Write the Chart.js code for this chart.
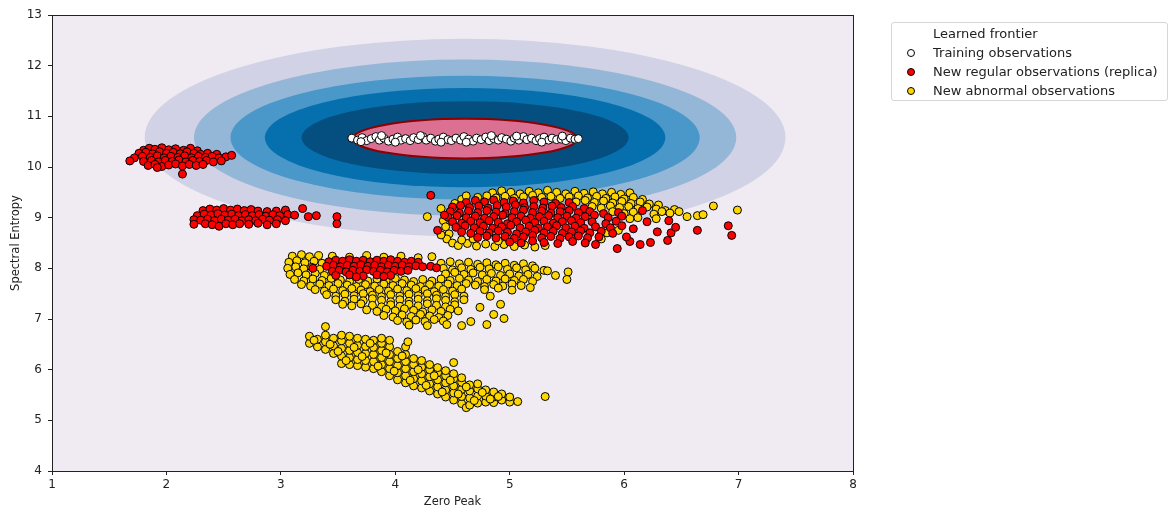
<!DOCTYPE html>
<html>
<head>
<meta charset="utf-8">
<script src="https://cdn.jsdelivr.net/npm/chart.js"></script>
<style>
  body { margin: 0; background: #fff; font-family: "DejaVu Sans", sans-serif; }
  #wrap { position: relative; width: 1174px; height: 512px; }
  #legend { position: absolute; left: 891px; top: 22px; width: 275px; height: 77px;
    border: 1px solid #d6d6d6; border-radius: 3px; background: #fff; font-size: 13px; color: #222; }
  .row { position: absolute; left: 0; height: 19px; line-height: 19px; white-space: nowrap; }
  .row span.dot { position: absolute; left: 15px; top: 6px; width: 6px; height: 6px; border: 1px solid #000; border-radius: 50%; }
  .row span.txt { position: absolute; left: 41px; }
</style>
</head>
<body>
<div id="wrap">
  <canvas id="chart" width="1174" height="512"></canvas>
  <div id="legend"></div>
</div>
<script>
// Axis ranges / ticks
const xRange = [1, 8];
const yRange = [4, 13];
const xTickStep = 1;
const yTickStep = 1;

// Learned decision function: filled bands, outermost first (center + half widths in data units)
const bandCenter = [4.61, 10.58];
const bandRadiusX = [2.80, 2.37, 2.05, 1.75, 1.43];
const bandRadiusY = [1.95, 1.54, 1.22, 0.98, 0.72];
const bandColors = ['#d1d2e6', '#94b7d8', '#4a97c9', '#0670ae', '#044f7f'];
const frontierCenter = [4.61, 10.56];
const frontierRadius = [0.98, 0.39];

const legendLabels = ['Learned frontier', 'Training observations', 'New regular observations (replica)', 'New abnormal observations'];

// Training observations
const trainingPoints = [
  [3.62,10.57],[3.67,10.53],[3.71,10.58],[3.75,10.52],[3.79,10.56],[3.83,10.60],[3.86,10.53],[3.90,10.57],
  [3.94,10.51],[3.98,10.55],[4.02,10.59],[4.05,10.53],[4.09,10.56],[4.13,10.52],[4.16,10.58],[4.20,10.54],
  [4.24,10.60],[4.27,10.53],[4.31,10.57],[4.35,10.51],[4.38,10.55],[4.42,10.59],[4.46,10.54],[4.49,10.52],
  [4.53,10.57],[4.57,10.53],[4.60,10.60],[4.64,10.55],[4.68,10.51],[4.71,10.57],[4.75,10.54],[4.79,10.59],
  [4.82,10.52],[4.86,10.56],[4.90,10.53],[4.93,10.58],[4.97,10.55],[5.01,10.51],[5.04,10.57],[5.08,10.53],
  [5.12,10.60],[5.15,10.54],[5.19,10.57],[5.23,10.52],[5.26,10.56],[5.30,10.59],[5.34,10.53],[5.37,10.57],
  [5.41,10.54],[5.45,10.55],[5.49,10.52],[5.53,10.57],[5.57,10.55],[5.60,10.56],
  [3.70,10.50],[3.88,10.62],[4.00,10.49],[4.22,10.62],[4.40,10.49],[4.62,10.49],[4.84,10.62],[5.06,10.61],
  [5.28,10.49],[5.46,10.61]
];

// New regular observations (replica)
const regularPoints = [
  // cluster near (2.1, 10.2)
  [1.80,10.33],[1.85,10.37],[1.90,10.35],[1.96,10.38],[2.02,10.34],[2.08,10.36],[2.15,10.33],[2.21,10.37],[2.27,10.32],
  [1.76,10.27],[1.82,10.29],[1.88,10.26],[1.94,10.30],[2.00,10.27],[2.06,10.29],[2.12,10.26],[2.18,10.30],[2.24,10.27],
  [2.30,10.25],[2.36,10.27],[2.44,10.25],
  [1.72,10.18],[1.79,10.21],[1.86,10.19],[1.92,10.22],[1.98,10.18],[2.04,10.21],[2.10,10.19],[2.16,10.22],[2.22,10.18],
  [2.28,10.21],[2.34,10.19],[2.40,10.21],[2.46,10.18],[2.52,10.20],[2.57,10.23],
  [1.68,10.12],[1.80,10.11],[1.87,10.13],[1.93,10.10],[1.99,10.13],[2.05,10.11],[2.11,10.14],[2.17,10.10],[2.23,10.13],
  [2.29,10.11],[2.35,10.13],[2.41,10.10],[2.48,10.12],
  [1.84,10.03],[1.90,10.05],[1.96,10.01],[2.02,10.04],[2.08,10.06],[2.14,10.02],[2.20,10.05],[2.26,10.03],[2.32,10.05],
  [2.14,9.86],[1.92,9.99],
  // cluster near (2.7, 9.0)
  [2.32,9.14],[2.38,9.17],[2.44,9.15],[2.50,9.18],[2.56,9.15],[2.62,9.17],[2.68,9.14],[2.74,9.16],[2.80,9.13],[2.88,9.12],
  [2.96,9.13],[3.04,9.15],
  [2.27,9.04],[2.33,9.07],[2.39,9.05],[2.45,9.08],[2.51,9.05],[2.57,9.07],[2.63,9.04],[2.69,9.06],[2.75,9.04],[2.81,9.06],
  [2.87,9.03],[2.93,9.06],[2.99,9.04],[3.06,9.06],[3.12,9.05],
  [2.24,8.96],[2.30,8.95],[2.36,8.97],[2.42,8.94],[2.48,8.97],[2.54,8.95],[2.60,8.97],[2.66,8.94],[2.72,8.96],[2.78,8.94],
  [2.84,8.97],[2.90,8.95],[2.97,8.96],[3.04,8.94],
  [2.24,8.87],[2.34,8.88],[2.40,8.86],[2.46,8.83],[2.52,8.88],[2.58,8.86],[2.64,8.88],[2.72,8.87],[2.80,8.89],[2.88,8.86],
  [2.96,8.88],
  [3.19,9.18],[3.24,9.02],[3.31,9.04],[3.49,9.02],[3.49,8.88],
  // cluster near (3.9, 8.0)
  [3.28,8.00],
  [3.42,8.13],[3.48,8.16],[3.54,8.14],[3.60,8.17],[3.66,8.14],[3.72,8.16],[3.78,8.13],[3.84,8.16],[3.90,8.14],[3.96,8.17],
  [4.02,8.14],[4.08,8.12],[4.14,8.14],[4.20,8.12],
  [3.40,8.04],[3.46,8.06],[3.52,8.03],[3.58,8.06],[3.64,8.04],[3.70,8.07],[3.76,8.04],[3.82,8.06],[3.88,8.03],[3.94,8.06],
  [4.00,8.04],[4.06,8.06],[4.12,8.03],[4.18,8.05],[4.24,8.03],[4.31,8.04],[4.36,8.01],
  [3.45,7.94],[3.51,7.96],[3.57,7.93],[3.63,7.96],[3.69,7.94],[3.75,7.97],[3.81,7.94],[3.87,7.96],[3.93,7.93],[3.99,7.96],
  [4.05,7.94],[4.11,7.96],
  [3.48,7.86],[3.60,7.87],[3.72,7.85],[3.84,7.87],[3.96,7.86],[3.66,7.83],[3.90,7.84],
  // large cluster near (5.2, 8.9)
  [4.62,9.30],[4.70,9.34],[4.78,9.31],[4.86,9.35],[4.95,9.30],[5.03,9.33],[5.12,9.29],[5.21,9.34],[5.30,9.31],[5.40,9.28],
  [5.52,9.30],
  [4.50,9.21],[4.57,9.24],[4.65,9.20],[4.73,9.23],[4.81,9.19],[4.89,9.24],[4.97,9.21],[5.05,9.25],[5.13,9.20],[5.21,9.22],
  [5.29,9.19],[5.37,9.23],[5.45,9.20],[5.55,9.22],[5.65,9.18],
  [4.48,9.12],[4.56,9.09],[4.64,9.13],[4.72,9.10],[4.80,9.14],[4.88,9.11],[4.96,9.08],[5.04,9.12],[5.12,9.15],[5.20,9.10],
  [5.28,9.13],[5.36,9.09],[5.44,9.12],[5.52,9.14],[5.60,9.10],[5.70,9.12],[5.82,9.08],[5.95,9.10],
  [4.46,9.01],[4.54,9.04],[4.62,9.00],[4.70,9.03],[4.78,8.99],[4.86,9.02],[4.94,9.05],[5.02,9.00],[5.10,9.03],[5.18,8.99],
  [5.26,9.02],[5.34,9.04],[5.42,9.00],[5.50,9.03],[5.58,8.99],[5.66,9.02],[5.74,9.05],[5.86,9.00],[5.98,9.03],
  [4.50,8.92],[4.58,8.89],[4.66,8.93],[4.74,8.90],[4.82,8.94],[4.90,8.91],[4.98,8.88],[5.06,8.92],[5.14,8.95],[5.22,8.90],
  [5.30,8.93],[5.38,8.89],[5.46,8.92],[5.54,8.94],[5.62,8.90],[5.72,8.92],[5.84,8.88],[5.93,8.93],
  [4.53,8.81],[4.61,8.84],[4.69,8.80],[4.77,8.83],[4.85,8.79],[4.93,8.82],[5.01,8.85],[5.09,8.80],[5.17,8.83],[5.25,8.79],
  [5.33,8.82],[5.41,8.84],[5.49,8.80],[5.57,8.83],[5.65,8.79],[5.75,8.82],[5.88,8.80],[5.98,8.84],
  [4.58,8.72],[4.66,8.69],[4.74,8.73],[4.82,8.70],[4.90,8.74],[4.98,8.71],[5.06,8.68],[5.14,8.72],[5.22,8.75],[5.30,8.70],
  [5.38,8.73],[5.46,8.69],[5.54,8.72],[5.62,8.74],[5.70,8.70],[5.80,8.73],[5.90,8.69],
  [4.72,8.61],[4.80,8.64],[4.88,8.60],[4.96,8.63],[5.04,8.59],[5.12,8.62],[5.20,8.65],[5.28,8.60],[5.36,8.63],[5.44,8.59],
  [5.52,8.62],[5.60,8.64],[5.68,8.60],[5.78,8.62],
  [5.00,8.52],[5.10,8.50],[5.20,8.54],[5.30,8.51],[5.42,8.49],[5.55,8.53],[5.66,8.50],[5.75,8.47],
  [4.31,9.44],[4.37,8.75],[4.43,9.05],[5.94,8.39],[6.05,8.53],[6.14,8.47],[6.23,8.51],[6.29,8.72],[6.38,8.55],[6.41,8.70],
  [6.45,8.81],[6.64,8.75],[6.91,8.84],[6.94,8.65],[6.20,8.92],[6.39,8.94],[6.16,9.14],[6.08,8.78],[6.02,8.62]
];

// New abnormal observations
const abnormalPoints = [
  // upper right cluster
  [4.85,9.49],[4.93,9.53],[5.01,9.50],[5.09,9.47],[5.17,9.52],[5.25,9.49],[5.33,9.54],[5.41,9.50],[5.49,9.47],[5.57,9.52],
  [5.65,9.48],[5.73,9.51],[5.81,9.47],[5.89,9.50],[5.97,9.46],[6.05,9.49],
  [4.72,9.40],[4.80,9.43],[4.88,9.39],[4.96,9.42],[5.04,9.38],[5.12,9.41],[5.20,9.44],[5.28,9.40],[5.36,9.42],[5.44,9.38],
  [5.52,9.41],[5.60,9.43],[5.68,9.39],[5.76,9.42],[5.84,9.38],[5.92,9.41],[6.00,9.37],[6.08,9.40],[6.16,9.36],
  [5.58,9.31],[5.66,9.34],[5.74,9.30],[5.82,9.33],[5.90,9.29],[5.98,9.32],[6.06,9.28],[6.14,9.31],[6.22,9.27],[6.30,9.25],
  [5.72,9.22],[5.80,9.19],[5.88,9.23],[5.96,9.20],[6.04,9.22],[6.12,9.18],[6.20,9.21],[6.28,9.17],[6.36,9.14],[6.44,9.16],
  [5.90,9.12],[6.00,9.08],[6.08,9.11],[6.26,9.07],[6.33,9.12],[6.40,9.09],[6.48,9.12],[6.55,9.02],[6.64,9.04],[6.69,9.06],
  [6.78,9.23],[6.99,9.15],[6.05,8.98],[6.12,9.00],[6.28,8.98],
  [4.28,9.02],[4.40,9.18],[4.42,8.94],[4.44,8.82],[4.47,8.68],[4.45,8.58],[4.52,9.28],[4.58,9.36],[4.50,8.50],[4.62,9.43],
  [4.40,8.66],
  [4.55,8.45],[4.63,8.49],[4.71,8.44],[4.79,8.48],[4.87,8.43],[4.95,8.47],[5.04,8.43],[5.13,8.46],[5.22,8.42],[5.31,8.45],
  [4.58,8.56],[4.68,8.58],[4.90,8.54],[5.85,8.70],[5.95,8.75],[5.80,8.58],
  // middle cluster
  [3.10,8.24],[3.18,8.27],[3.25,8.23],[3.33,8.25],
  [3.07,8.12],[3.14,8.15],[3.21,8.11],[3.29,8.14],[3.36,8.10],
  [3.06,8.00],[3.13,8.03],[3.20,7.99],[3.27,8.02],[3.34,7.98],
  [3.08,7.88],[3.15,7.91],[3.22,7.87],[3.30,7.90],[3.38,7.86],
  [3.45,8.24],[3.60,8.22],[3.75,8.25],[3.90,8.22],[4.05,8.24],[4.20,8.21],[4.32,8.23],
  [4.40,8.10],[4.48,8.13],[4.56,8.09],[4.64,8.12],[4.72,8.08],[4.80,8.11],[4.88,8.07],[4.96,8.10],[5.04,8.06],[5.12,8.09],
  [5.20,8.05],
  [4.42,8.00],[4.50,7.97],[4.58,8.01],[4.66,7.98],[4.74,8.02],[4.82,7.99],[4.90,8.03],[4.98,7.98],[5.06,8.01],[5.14,7.97],
  [5.22,8.00],[5.30,7.96],
  [4.44,7.89],[4.52,7.92],[4.60,7.88],[4.68,7.91],[4.76,7.87],[4.84,7.90],[4.92,7.86],[5.00,7.89],[5.08,7.85],[5.16,7.88],
  [5.24,7.84],[5.33,7.95],[5.40,7.86],[5.51,7.93],[5.50,7.78],
  [3.12,7.78],[3.20,7.75],[3.28,7.79],[3.36,7.76],[3.44,7.80],[3.52,7.77],[3.60,7.74],[3.68,7.78],[3.76,7.75],[3.84,7.79],
  [3.92,7.76],[4.00,7.80],[4.08,7.77],[4.16,7.74],[4.24,7.78],[4.32,7.75],[4.40,7.79],[4.48,7.76],[4.56,7.80],[4.64,7.77],
  [4.72,7.74],[4.80,7.78],[4.88,7.75],[4.96,7.79],[5.04,7.76],[5.12,7.78],[5.20,7.74],
  [3.18,7.68],[3.26,7.65],[3.34,7.69],[3.42,7.66],[3.50,7.70],[3.58,7.67],[3.66,7.64],[3.74,7.68],[3.82,7.65],[3.90,7.69],
  [3.98,7.66],[4.06,7.70],[4.14,7.67],[4.22,7.64],[4.30,7.68],[4.38,7.65],[4.46,7.69],[4.54,7.66],[4.62,7.70],[4.70,7.67],
  [4.78,7.64],[4.86,7.68],[4.94,7.65],[5.02,7.69],[5.10,7.66],[5.18,7.62],
  [3.30,7.58],[3.38,7.55],[3.46,7.59],[3.54,7.56],[3.62,7.60],[3.70,7.57],[3.78,7.54],[3.86,7.58],[3.94,7.55],[4.02,7.59],
  [4.10,7.56],[4.18,7.60],[4.26,7.57],[4.34,7.54],[4.42,7.58],[4.50,7.55],[4.58,7.59],[4.78,7.58],[4.90,7.61],[5.02,7.57],
  [3.40,7.48],[3.48,7.45],[3.56,7.49],[3.64,7.46],[3.72,7.50],[3.80,7.47],[3.88,7.44],[3.96,7.48],[4.04,7.45],[4.12,7.49],
  [4.20,7.46],[4.28,7.50],[4.36,7.47],[4.44,7.44],[4.52,7.48],[4.60,7.45],[4.83,7.45],
  [3.48,7.38],[3.56,7.35],[3.64,7.39],[3.72,7.36],[3.80,7.40],[3.88,7.37],[3.96,7.34],[4.04,7.38],[4.12,7.35],[4.20,7.39],
  [4.28,7.36],[4.36,7.40],[4.44,7.37],[4.52,7.34],[4.60,7.38],
  [3.54,7.29],[3.62,7.26],[3.70,7.30],[3.80,7.27],[3.88,7.24],[3.96,7.28],[4.04,7.25],[4.12,7.29],[4.20,7.26],[4.28,7.30],
  [4.36,7.27],[4.44,7.24],[4.52,7.28],[4.74,7.23],[4.92,7.29],
  [3.75,7.18],[3.84,7.15],[3.92,7.19],[4.00,7.16],[4.08,7.20],[4.16,7.17],[4.24,7.14],[4.32,7.18],[4.40,7.15],[4.48,7.19],
  [4.55,7.16],
  [3.90,7.07],[3.98,7.04],[4.06,7.08],[4.14,7.05],[4.22,7.09],[4.30,7.06],[4.38,7.03],[4.46,7.07],[4.86,7.09],[4.95,7.01],
  [4.02,6.97],[4.10,6.94],[4.18,6.98],[4.26,6.95],[4.34,6.99],[4.42,6.96],[4.66,6.95],
  [4.12,6.88],[4.28,6.87],[4.45,6.89],[4.58,6.87],[4.80,6.89],
  // lower diagonal cluster
  [3.25,6.52],[3.25,6.66],[3.32,6.45],[3.32,6.60],[3.39,6.40],[3.39,6.55],[3.39,6.68],[3.39,6.85],
  [3.46,6.32],[3.46,6.47],[3.46,6.62],[3.53,6.12],[3.53,6.27],[3.53,6.42],[3.53,6.57],[3.53,6.68],
  [3.60,6.10],[3.60,6.24],[3.60,6.38],[3.60,6.52],[3.60,6.66],[3.67,6.08],[3.67,6.20],[3.67,6.34],[3.67,6.48],[3.67,6.62],
  [3.74,6.05],[3.74,6.18],[3.74,6.32],[3.74,6.46],[3.74,6.60],[3.81,6.02],[3.81,6.16],[3.81,6.30],[3.81,6.44],[3.81,6.58],
  [3.88,5.96],[3.88,6.10],[3.88,6.24],[3.88,6.38],[3.88,6.52],[3.88,6.62],
  [3.95,5.88],[3.95,6.02],[3.95,6.16],[3.95,6.30],[3.95,6.45],[3.95,6.58],
  [4.02,5.80],[4.02,5.94],[4.02,6.08],[4.02,6.22],[4.02,6.36],
  [4.09,5.74],[4.09,5.88],[4.09,6.02],[4.09,6.16],[4.09,6.30],[4.09,6.45],[4.11,6.55],
  [4.16,5.68],[4.16,5.82],[4.16,5.96],[4.16,6.10],[4.16,6.22],
  [4.23,5.64],[4.23,5.78],[4.23,5.92],[4.23,6.05],[4.23,6.18],
  [4.30,5.58],[4.30,5.72],[4.30,5.86],[4.30,6.00],[4.30,6.10],
  [4.37,5.52],[4.37,5.66],[4.37,5.80],[4.37,5.94],[4.37,6.04],
  [4.44,5.46],[4.44,5.60],[4.44,5.74],[4.44,5.88],[4.44,5.98],
  [4.51,5.40],[4.51,5.54],[4.51,5.68],[4.51,5.82],[4.51,5.92],[4.51,6.14],
  [4.58,5.33],[4.58,5.47],[4.58,5.61],[4.58,5.75],[4.58,5.84],[4.62,5.25],
  [4.65,5.30],[4.65,5.44],[4.65,5.58],[4.65,5.70],
  [4.72,5.34],[4.72,5.48],[4.72,5.62],[4.72,5.72],
  [4.79,5.36],[4.79,5.48],[4.79,5.60],[4.86,5.35],[4.86,5.46],[4.86,5.56],
  [4.93,5.40],[4.93,5.52],[5.00,5.36],[5.00,5.46],[5.07,5.37],[5.31,5.47],
  // extra fill between rows of the lower cluster
  [3.29,6.58],[3.43,6.50],[3.50,6.36],[3.57,6.18],[3.64,6.44],[3.71,6.26],[3.78,6.52],[3.85,6.07],[3.92,6.33],
  [3.99,5.97],[4.06,6.27],[4.13,5.79],[4.20,6.00],[4.27,5.69],[4.34,5.88],[4.41,5.56],[4.48,5.79],[4.55,5.52],
  [4.62,5.66],[4.69,5.39],[4.76,5.55],[4.83,5.42],[4.90,5.47]
];

const toXY = pts => pts.map(p => ({ x: p[0], y: p[1] }));

// Legend (matplotlib-style box)
const legendColors = [null, '#ffffff', '#ff0000', '#ffd700'];
const legendDiv = document.getElementById('legend');
legendLabels.forEach((label, i) => {
  const row = document.createElement('div');
  row.className = 'row';
  row.style.top = (1 + i * 18.9) + 'px';
  row.style.width = '100%';
  row.innerHTML = (legendColors[i] ? `<span class="dot" style="background:${legendColors[i]}"></span>` : '') +
    `<span class="txt">${label}</span>`;
  legendDiv.appendChild(row);
});

// Background + filled contour bands + frontier, drawn through the scales
const contourPlugin = {
  id: 'contours',
  beforeDatasetsDraw(chart) {
    const { ctx, chartArea, scales } = chart;
    const xs = scales.x, ys = scales.y;
    ctx.save();
    ctx.beginPath();
    ctx.rect(chartArea.left, chartArea.top, chartArea.width, chartArea.height);
    ctx.clip();
    ctx.fillStyle = '#f0eaf3';
    ctx.fillRect(chartArea.left, chartArea.top, chartArea.width, chartArea.height);
    const cx = xs.getPixelForValue(bandCenter[0]);
    const cy = ys.getPixelForValue(bandCenter[1]);
    bandRadiusX.forEach((rx, i) => {
      const rxp = Math.abs(xs.getPixelForValue(bandCenter[0] + rx) - cx);
      const ryp = Math.abs(ys.getPixelForValue(bandCenter[1] + bandRadiusY[i]) - cy);
      ctx.beginPath();
      ctx.ellipse(cx, cy, rxp, ryp, 0, 0, Math.PI * 2);
      ctx.fillStyle = bandColors[i];
      ctx.fill();
    });
    const fx = xs.getPixelForValue(frontierCenter[0]);
    const fy = ys.getPixelForValue(frontierCenter[1]);
    const frx = Math.abs(xs.getPixelForValue(frontierCenter[0] + frontierRadius[0]) - fx);
    const fry = Math.abs(ys.getPixelForValue(frontierCenter[1] + frontierRadius[1]) - fy);
    ctx.beginPath();
    ctx.ellipse(fx, fy, frx, fry, 0, 0, Math.PI * 2);
    ctx.fillStyle = '#db7093';
    ctx.fill();
    ctx.lineWidth = 2;
    ctx.strokeStyle = '#8b0000';
    ctx.stroke();
    ctx.restore();
  },
  afterDraw(chart) {
    const { ctx, chartArea } = chart;
    ctx.save();
    ctx.strokeStyle = '#222';
    ctx.lineWidth = 1;
    ctx.strokeRect(Math.round(chartArea.left) + 0.5, Math.round(chartArea.top) + 0.5,
      Math.round(chartArea.width), Math.round(chartArea.height));
    ctx.restore();
  }
};

const pointStyle = { pointRadius: 4, pointBorderWidth: 1, pointBorderColor: '#000', pointHoverRadius: 4, showLine: false };
const tickFont = { family: 'DejaVu Sans', size: 12 };

new Chart(document.getElementById('chart').getContext('2d'), {
  type: 'scatter',
  data: {
    datasets: [
      Object.assign({ label: legendLabels[1], data: toXY(trainingPoints), pointBackgroundColor: '#ffffff' }, pointStyle),
      Object.assign({ label: legendLabels[2], data: toXY(regularPoints), pointBackgroundColor: '#ff0000' }, pointStyle),
      Object.assign({ label: legendLabels[3], data: toXY(abnormalPoints), pointBackgroundColor: '#ffd700' }, pointStyle)
    ]
  },
  options: {
    responsive: false,
    animation: false,
    layout: { padding: { left: 0, right: 321, top: 15, bottom: 0 } },
    plugins: { legend: { display: false }, tooltip: { enabled: false } },
    scales: {
      x: {
        type: 'linear', min: xRange[0], max: xRange[1],
        ticks: { stepSize: xTickStep, color: '#222', font: tickFont, padding: 3 },
        grid: { drawOnChartArea: false, drawTicks: true, tickLength: 4, color: '#222' },
        border: { color: '#222' },
        title: { display: true, text: 'Zero Peak', color: '#222', font: { family: 'DejaVu Sans', size: 11.5 }, padding: { top: 0, bottom: 3 } },
        afterFit(s) { s.height = 41; }
      },
      y: {
        type: 'linear', min: yRange[0], max: yRange[1],
        ticks: { stepSize: yTickStep, color: '#222', font: tickFont, padding: 6 },
        grid: { drawOnChartArea: false, drawTicks: true, tickLength: 4, color: '#222' },
        border: { color: '#222' },
        title: { display: true, text: 'Spectral Entropy', color: '#222', font: { family: 'DejaVu Sans', size: 11.5 }, padding: { top: 9, bottom: 0 } },
        afterFit(s) { s.width = 52; }
      }
    }
  },
  plugins: [contourPlugin]
});
</script>
</body>
</html>
